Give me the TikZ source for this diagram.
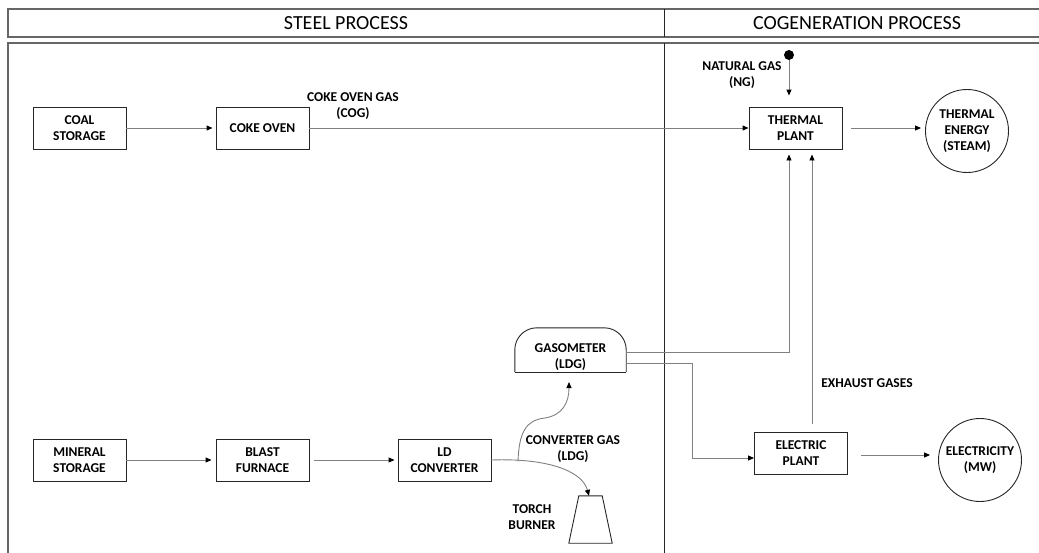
\documentclass[tikz,border=0pt]{standalone}
\usepackage{fontspec}
\setmainfont{Carlito}
\usetikzlibrary{arrows.meta,calc}
\begin{document}
\begin{tikzpicture}[x=1pt,y=-1pt,
  frame/.style={draw=black!60,line width=1.6pt},
  divider/.style={draw=black!85,line width=1pt},
  boxline/.style={draw=black!85,line width=0.9pt},
  box/.style={boxline,minimum width=93pt,minimum height=42pt,inner sep=0pt,
    font=\bfseries\fontsize{13.5}{16}\selectfont,align=center},
  lbl/.style={inner sep=0pt,font=\bfseries\fontsize{13.5}{16}\selectfont,align=center},
  ghost/.style={inner sep=0pt,draw=none},
  circ/.style={boxline,circle,inner sep=0pt,font=\bfseries\fontsize{13.5}{16}\selectfont,align=center},
  head/.style={inner sep=0pt,font=\fontsize{20}{24}\selectfont},
  conn/.style={draw=black!50,line width=0.9pt,-{Triangle[length=6pt,width=5pt,color=black]}}
]
\useasboundingbox (0,0) rectangle (1039,552);
% frame
\draw[frame] (1045,9) -- (8,9) -- (8,37) -- (1045,37);
\draw[frame] (1045,43) -- (8,43) -- (8,560);
\draw[divider] (664,9) -- (664,37);
\draw[divider] (664,43) -- (664,560);
\node[head] (steel) at (346,23) {STEEL PROCESS};
\node[head] (cogen) at (857,23) {COGENERATION PROCESS};

% boxes
\node[box] (coal) at (79.5,128) {COAL\\STORAGE};
\node[box] (coke) at (262.5,128) {COKE OVEN};
\node[box] (thermal) at (795.5,128) {THERMAL\\PLANT};
\node[box] (mineral) at (79.5,460) {MINERAL\\STORAGE};
\node[box] (blast) at (262.5,460) {BLAST\\FURNACE};
\node[box] (ld) at (444.5,460) {LD\\CONVERTER};
\node[box] (elec) at (801,453) {ELECTRIC\\PLANT};
\node[circ,minimum size=83pt] (steam) at (967,131) {THERMAL\\ENERGY\\(STEAM)};
\node[circ,minimum size=83pt] (elecy) at (980,460) {ELECTRICITY\\(MW)};
\node[circle,fill=black,inner sep=0pt,minimum size=10pt] (ng) at (789,55) {};

% gasometer
\node[ghost,minimum width=111pt,minimum height=44pt] (gas) at (570.5,350) {};
\draw[boxline,rounded corners=22pt] (gas.south west) -- (gas.north west) -- (gas.north east) -- (gas.south east);
\draw[boxline] (gas.south east) -- (gas.south west);
\node[lbl] (gastxt) at (570.5,357) {GASOMETER\\(LDG)};

% torch burner
\node[ghost,minimum width=43pt,minimum height=47pt] (torch) at (590.5,519.5) {};
\draw[boxline] (torch.south west) -- (torch.south east) -- ([xshift=-10pt]torch.north east) -- ([xshift=10pt]torch.north west) -- cycle;

% labels
\node[lbl] (cogl) at (353,106) {COKE OVEN GAS\\(COG)};
\node[lbl] (ngl) at (742,75.5) {NATURAL GAS\\(NG)};
\node[lbl] (convl) at (573,449) {CONVERTER GAS\\(LDG)};
\node[lbl] (torchl) at (532,517) {TORCH\\BURNER};
\node[lbl] (exhl) at (867,383) {EXHAUST GASES};

% connectors
\draw[conn,shorten >=3pt] (coal) -- (coke);
\draw[conn] (coke) -- (thermal);
\draw[conn,shorten >=11pt] (ng) -- (ng |- thermal.north);
\draw[conn,shorten <=9pt,shorten >=4pt] (thermal.east) -- (thermal.east -| steam.west);
\draw[conn,shorten >=4pt] (mineral) -- (blast);
\draw[conn,shorten <=5pt,shorten >=3pt] (blast) -- (ld);
\draw[conn,shorten >=5pt] ([yshift=-2pt]gas.east) -| ([xshift=-6.5pt]thermal.south);
\draw[conn] ([yshift=-13pt]gas.east) -- ++(66,0) |- ([yshift=-5pt]elec.west);
\draw[conn,shorten >=5pt] ([xshift=11pt,yshift=8pt]elec.north) -- ([xshift=16.5pt]thermal.south);
\draw[conn] ([xshift=13pt,yshift=-2pt]elec.east) -- ([xshift=-8pt,yshift=5pt]elecy.west);
\draw[conn] (ld.east) .. controls (545,458) and (582,470) .. ([xshift=-1.5pt]torch.north);
\coordinate (br) at (518,461.5);
\coordinate (gasin) at (569,382);
\draw[conn] (br) .. controls (519,432) and (526,420) .. (545,418) .. controls (563,415) and (569,402) .. (gasin);
\end{tikzpicture}
\end{document}
